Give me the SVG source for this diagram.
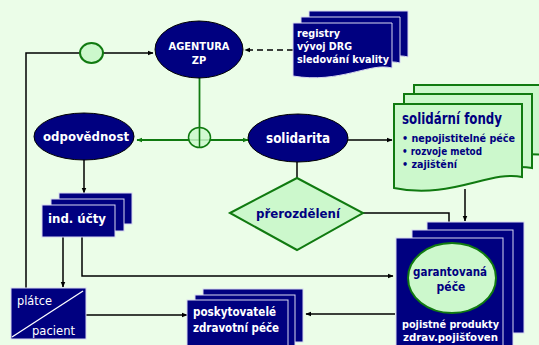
<svg xmlns="http://www.w3.org/2000/svg" width="539" height="345" viewBox="0 0 539 345">
<defs>
<style>
.navy{fill:#000080;stroke:#d8d8f0;stroke-width:1}
.ell{fill:#000080;stroke:#000;stroke-width:1}
.lg{fill:#ccf8cc;stroke:#107a10;stroke-width:2}
.ln{fill:none;stroke:#000;stroke-width:1.5}
.gl{fill:none;stroke:#107a10;stroke-width:1.8}
text{font-family:"DejaVu Sans Condensed","DejaVu Sans",Verdana,sans-serif;font-stretch:condensed}
.tw{font-weight:bold;fill:#fff}
.tn{font-weight:bold;fill:#000080}
.tp{fill:#fff}
</style>
<marker id="ab" viewBox="0 0 10 10" refX="9" refY="5" markerWidth="6" markerHeight="6" orient="auto" markerUnits="userSpaceOnUse"><path d="M0,1 L10,5 L0,9 z" fill="#000"/></marker>
<marker id="ag" viewBox="0 0 10 10" refX="9" refY="5" markerWidth="6" markerHeight="6" orient="auto" markerUnits="userSpaceOnUse"><path d="M0,1 L10,5 L0,9 z" fill="#107a10"/></marker>
</defs>
<rect width="539" height="345" fill="#ebfde8"/>

<g id="connectors">
<polyline class="ln" points="26,288 26,53 153,53" marker-end="url(#ab)"/>
<line x1="293" y1="50" x2="245" y2="50" stroke="#000" stroke-width="1.5" stroke-dasharray="6,4" marker-end="url(#ab)"/>
<line class="gl" x1="199.5" y1="78" x2="199.5" y2="140"/>
<line class="gl" x1="199.5" y1="140" x2="137" y2="140" marker-end="url(#ag)"/>
<line class="gl" x1="199.5" y1="140" x2="248" y2="140" marker-end="url(#ag)"/>
<line class="ln" x1="348" y1="140" x2="392" y2="140" marker-end="url(#ab)"/>
<line class="ln" x1="297" y1="162" x2="297" y2="198" marker-end="url(#ab)"/>
<line class="ln" x1="84" y1="160" x2="84" y2="193" marker-end="url(#ab)"/>
<line class="ln" x1="63" y1="237" x2="63" y2="287" marker-end="url(#ab)"/>
<polyline class="ln" points="82,237 82,276 393,276" marker-end="url(#ab)"/>
<polyline class="ln" points="363,213 449,213 449,256" marker-end="url(#ab)"/>
<line class="ln" x1="465" y1="189" x2="465" y2="221" marker-end="url(#ab)"/>
<line class="ln" x1="86" y1="315" x2="187" y2="315" marker-end="url(#ab)"/>
<line class="ln" x1="395" y1="314" x2="306" y2="314" marker-end="url(#ab)"/>
</g>

<g id="circle-top"><ellipse cx="91.5" cy="53" rx="11.5" ry="10" class="lg" stroke-width="1.5"/></g>
<g id="circle-mid"><ellipse cx="199.5" cy="137.5" rx="11" ry="10" fill="#ccf8cc" fill-opacity="0.85" stroke="#107a10" stroke-width="1.5"/><line x1="199.5" y1="127.5" x2="199.5" y2="147.5" stroke="#107a10" stroke-width="1.5"/></g>

<g id="agentura">
<ellipse class="ell" cx="199" cy="49.5" rx="44" ry="28.5"/>
<text class="tw" font-size="11" text-anchor="middle" x="199" y="50" textLength="61" lengthAdjust="spacingAndGlyphs">AGENTURA</text>
<text class="tw" font-size="11" text-anchor="middle" x="199" y="64">ZP</text>
</g>

<g id="registry">
<path class="navy" d="M309,11 H408 V57 C390,52 370,66 309,62 Z"/>
<path class="navy" d="M301,17 H400 V63 C382,58 362,72 301,68 Z"/>
<path class="navy" d="M293,23 H392 V68 C370,62 340,84 293,76 Z"/>
<text class="tw" font-size="11" x="297" y="37" textLength="43" lengthAdjust="spacingAndGlyphs">registry</text>
<text class="tw" font-size="11" x="297" y="50" textLength="55" lengthAdjust="spacingAndGlyphs">vývoj DRG</text>
<text class="tw" font-size="11" x="297" y="63" textLength="92" lengthAdjust="spacingAndGlyphs">sledování kvality</text>
</g>

<g id="odpovednost">
<ellipse class="ell" cx="84" cy="136.5" rx="50" ry="23.5"/>
<text class="tw" font-size="13" x="43" y="141" textLength="86" lengthAdjust="spacingAndGlyphs">odpovědnost</text>
</g>

<g id="solidarita">
<ellipse class="ell" cx="298" cy="138" rx="50" ry="24"/>
<text class="tw" font-size="14" x="266" y="143" textLength="64" lengthAdjust="spacingAndGlyphs">solidarita</text>
</g>

<g id="solidarni-fondy">
<path class="lg" d="M414,85 H545 V155 C500,150 470,170 414,163 Z"/>
<path class="lg" d="M404,94 H532 V168 C500,162 460,184 404,176 Z"/>
<path class="lg" d="M394,104 H522 V177 C490,170 450,200 394,188 Z"/>
<text class="tn" font-size="15" x="402" y="124" textLength="100" lengthAdjust="spacingAndGlyphs">solidární fondy</text>
<text class="tn" font-size="11" x="402" y="142" textLength="113" lengthAdjust="spacingAndGlyphs">• nepojistitelné péče</text>
<text class="tn" font-size="11" x="402" y="155" textLength="80" lengthAdjust="spacingAndGlyphs">• rozvoje metod</text>
<text class="tn" font-size="11" x="402" y="168" textLength="55" lengthAdjust="spacingAndGlyphs">• zajištění</text>
</g>

<g id="ind-ucty">
<rect class="navy" x="59" y="193" width="73" height="31"/>
<rect class="navy" x="51" y="199" width="73" height="32"/>
<rect class="navy" x="42" y="205" width="73" height="32"/>
<text class="tw" font-size="13" x="48" y="223" textLength="58" lengthAdjust="spacingAndGlyphs">ind. účty</text>
</g>

<g id="prerozdeleni">
<polygon class="lg" points="230,213 297,178 363,213 297,250"/>
<text class="tn" font-size="13" x="256" y="218" textLength="84" lengthAdjust="spacingAndGlyphs">přerozdělení</text>
</g>

<g id="platce-pacient">
<rect class="navy" x="11" y="288" width="75" height="51"/>
<line x1="12" y1="337" x2="83" y2="291" stroke="#fff" stroke-width="1.3"/>
<text class="tp" font-size="13" x="17" y="305" textLength="35" lengthAdjust="spacingAndGlyphs">plátce</text>
<text class="tp" font-size="13" x="32" y="335" textLength="43" lengthAdjust="spacingAndGlyphs">pacient</text>
</g>

<g id="poskytovatele">
<rect class="navy" x="203" y="289" width="100" height="53"/>
<rect class="navy" x="195" y="295" width="100" height="52"/>
<rect class="navy" x="187" y="300" width="101" height="50"/>
<text class="tw" font-size="12" x="193" y="316" textLength="83" lengthAdjust="spacingAndGlyphs">poskytovatelé</text>
<text class="tw" font-size="12" x="193" y="332" textLength="86" lengthAdjust="spacingAndGlyphs">zdravotní péče</text>
</g>

<g id="garantovana">
<rect class="navy" x="427" y="222" width="97" height="111"/>
<rect class="navy" x="412" y="230" width="101" height="120"/>
<rect class="navy" x="396" y="238" width="107" height="112"/>
<ellipse class="lg" cx="452" cy="278" rx="44" ry="35"/>
<text class="tn" font-size="12" x="413" y="276" textLength="74" lengthAdjust="spacingAndGlyphs">garantovaná</text>
<text class="tn" font-size="12" text-anchor="middle" x="451" y="291">péče</text>
<text class="tw" font-size="11" x="402" y="328" textLength="97" lengthAdjust="spacingAndGlyphs">pojistné produkty</text>
<text class="tw" font-size="11" x="403" y="341" textLength="95" lengthAdjust="spacingAndGlyphs">zdrav.pojišťoven</text>
</g>
</svg>
